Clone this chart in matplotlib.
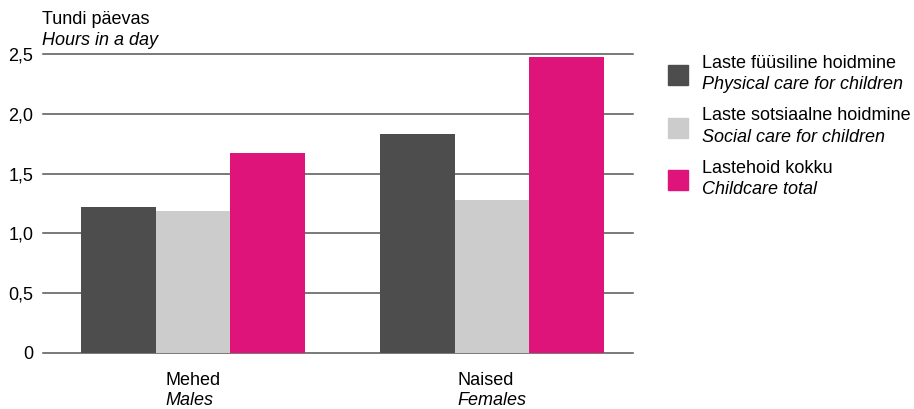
import numpy as np
from matplotlib import pyplot as plt
from matplotlib.patches import Rectangle

## data
groups_et = ['Mehed', 'Naised']
groups_en = ['Males', 'Females']
series_et = ['Laste füüsiline hoidmine', 'Laste sotsiaalne hoidmine', 'Lastehoid kokku']
series_en = ['Physical care for children', 'Social care for children', 'Childcare total']
physical = [1.22, 1.83]
social = [1.19, 1.28]
total = [1.67, 2.48]
yticks = [0, 0.5, 1.0, 1.5, 2.0, 2.5]
ytick_labels = ['0', '0,5', '1,0', '1,5', '2,0', '2,5']

colors = ['#4d4d4d', '#cccccc', '#de147b']
values = [physical, social, total]

plt.rcParams['font.family'] = ['Liberation Sans', 'DejaVu Sans']
fs = 13

fig = plt.figure(figsize=(9.14, 4.09), dpi=100)
ax = fig.add_axes([0.047, 0.1377, 0.6455, 0.7295])

x = np.arange(len(groups_et))
w = 0.25
for i, (vals, c) in enumerate(zip(values, colors)):
    ax.bar(x + (i - 1) * w, vals, width=w, color=c, zorder=3, linewidth=0)

ax.set_xlim(-0.502, 1.472)
ax.set_ylim(0, 2.5)
ax.set_yticks(yticks)
ax.set_yticklabels(ytick_labels, fontsize=fs)
ax.set_xticks([])
ax.grid(axis='y', color='#555555', linewidth=1.1, zorder=0)
ax.tick_params(axis='y', length=0, pad=7)
for s in ax.spines.values():
    s.set_visible(False)
for t in ax.get_ygridlines():
    t.set_clip_on(False)

## y title
fig.text(42 / 914, 1 - 24 / 409, 'Tundi päevas', fontsize=fs, ha='left', va='baseline')
fig.text(42 / 914, 1 - 45 / 409, 'Hours in a day', fontsize=fs, style='italic', ha='left', va='baseline')

## group labels: left aligned block centred on group
fig.canvas.draw()
r = fig.canvas.get_renderer()
for xi, et, en in zip(x, groups_et, groups_en):
    t1 = ax.text(xi, 0, et, fontsize=fs, transform=ax.transData, va='baseline', ha='left')
    t2 = ax.text(xi, 0, en, fontsize=fs, style='italic', transform=ax.transData, va='baseline', ha='left')
    wpx = max(t1.get_window_extent(r).width, t2.get_window_extent(r).width)
    cx = ax.transData.transform((xi, 0))[0]
    left = (cx - wpx / 2) / fig.bbox.width
    for t, yb in [(t1, 385), (t2, 405)]:
        t.set_transform(fig.transFigure)
        t.set_position((left, 1 - yb / 409))

## legend
sq = 20
for i, (c, et, en) in enumerate(zip(colors, series_et, series_en)):
    top = 65 + i * 52.5
    fig.patches.append(Rectangle((668 / 914, 1 - (top + sq) / 409), sq / 914, sq / 409,
                                 transform=fig.transFigure, color=c, figure=fig))
    fig.text(702 / 914, 1 - (top + 3) / 409, et, fontsize=fs, ha='left', va='baseline')
    fig.text(702 / 914, 1 - (top + 24) / 409, en, fontsize=fs, style='italic', ha='left', va='baseline')

fig.savefig('out.png', dpi=100)
